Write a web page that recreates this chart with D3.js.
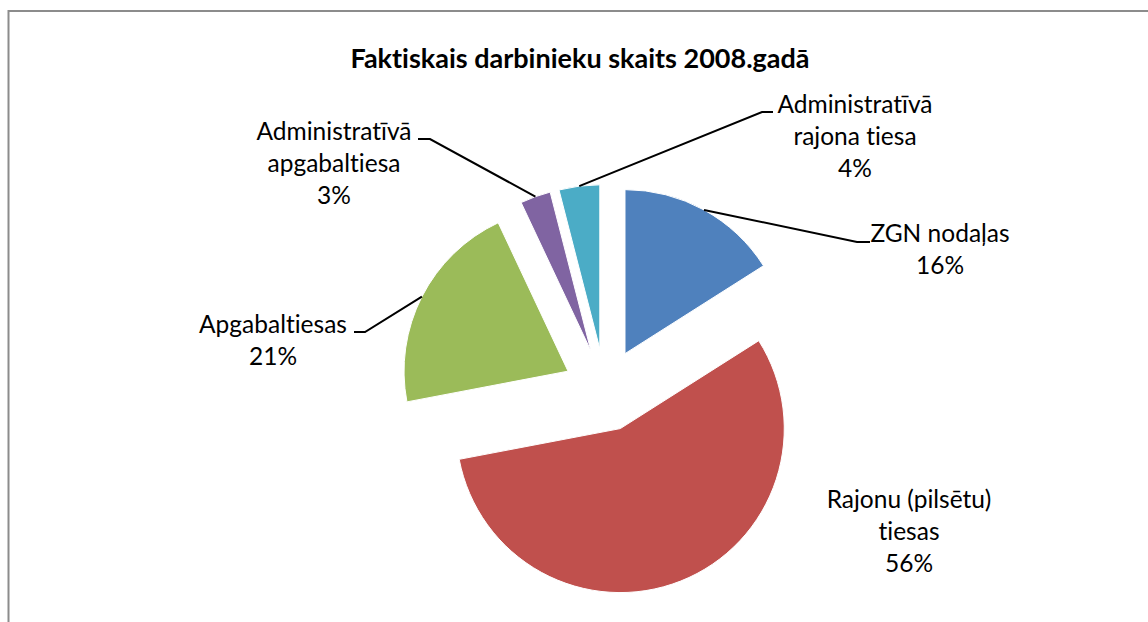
<!DOCTYPE html>
<html>
<head>
<meta charset="utf-8">
<script src="https://cdnjs.cloudflare.com/ajax/libs/d3/7.8.5/d3.min.js"></script>
<style>
    html, body { margin: 0; padding: 0; background: #fff; }
    svg { display: block; font-family: Lato, "Open Sans", sans-serif; font-variant-ligatures: none; }
</style>
</head>
<body>
<svg id="chart" width="1148" height="622"></svg>
<script>
const title = "Faktiskais darbinieku skaits 2008.gadā";
const categories = ["ZGN nodaļas", "Rajonu (pilsētu) tiesas", "Apgabaltiesas", "Administratīvā apgabaltiesa", "Administratīvā rajona tiesa"];
const values = [16, 56, 21, 3, 4];
const colors = ["#4F81BD", "#C0504D", "#9BBB59", "#8064A2", "#4BACC6"];

// where Excel put the wrapped labels (layout only)
const labelLines = [["ZGN nodaļas"], ["Rajonu (pilsētu)", "tiesas"], ["Apgabaltiesas"], ["Administratīvā", "apgabaltiesa"], ["Administratīvā", "rajona tiesa"]];
const labelPos = [[940, 242], [909, 508], [273, 333], [334, 140], [855, 113]];
const leaderElbow = [[857, 242, 870], null, [365, 332, 354], [430, 139, 418], [762, 112, 773]];

document.addEventListener('DOMContentLoaded', function() {
    const svg = d3.select("#chart");
    const width = +svg.attr("width");
    const height = +svg.attr("height");

    const cx = 605, cy = 390;
    const radius = 164;
    const explode = 41.5;
    const lineHeight = 32;

    // chart frame
    svg.append("rect")
        .attr("x", 8.5).attr("y", 11)
        .attr("width", width + 20).attr("height", height + 20)
        .attr("fill", "none")
        .attr("stroke", "#8c8c8c")
        .attr("stroke-width", 2);

    svg.append("text")
        .attr("x", 580).attr("y", 68)
        .attr("text-anchor", "middle")
        .attr("font-weight", "bold")
        .attr("font-size", 27)
        .attr("fill", "#000")
        .text(title);

    const data = categories.map((c, i) => ({ name: c, value: values[i], color: colors[i], i: i }));
    const total = d3.sum(values);
    const pct = d3.format(".0%");

    const pie = d3.pie().sort(null).value(d => d.value).startAngle(0).endAngle(2 * Math.PI);
    const arc = d3.arc().innerRadius(0).outerRadius(radius);
    const arcs = pie(data);

    const g = svg.append("g").attr("transform", `translate(${cx},${cy})`);

    arcs.forEach(a => {
        const mid = (a.startAngle + a.endAngle) / 2;
        a.dx = explode * Math.sin(mid);
        a.dy = -explode * Math.cos(mid);
        a.mid = mid;
    });

    g.selectAll(".slice").data(arcs).enter().append("path")
        .attr("class", "slice")
        .attr("transform", d => `translate(${d.dx},${d.dy})`)
        .attr("d", arc)
        .attr("fill", d => d.data.color)
        .attr("stroke", "#fff")
        .attr("stroke-width", 1);

    // leader lines: outer arc midpoint -> elbow -> label
    arcs.forEach(a => {
        const e = leaderElbow[a.index];
        if (!e) return;
        const x0 = cx + a.dx + radius * Math.sin(a.mid);
        const y0 = cy + a.dy - radius * Math.cos(a.mid);
        svg.append("path")
            .attr("d", d3.line()([[x0, y0], [e[0], e[1]], [e[2], e[1]]]))
            .attr("fill", "none")
            .attr("stroke", "#000")
            .attr("stroke-width", 2);
    });

    arcs.forEach(a => {
        const lines = labelLines[a.index].concat([pct(a.data.value / total)]);
        const t = svg.append("text")
            .attr("text-anchor", "middle")
            .attr("font-size", 24.5)
            .attr("fill", "#000");
        lines.forEach((l, k) => {
            t.append("tspan")
                .attr("x", labelPos[a.index][0])
                .attr("y", labelPos[a.index][1] + k * lineHeight)
                .text(l);
        });
    });
});
</script>
</body>
</html>
